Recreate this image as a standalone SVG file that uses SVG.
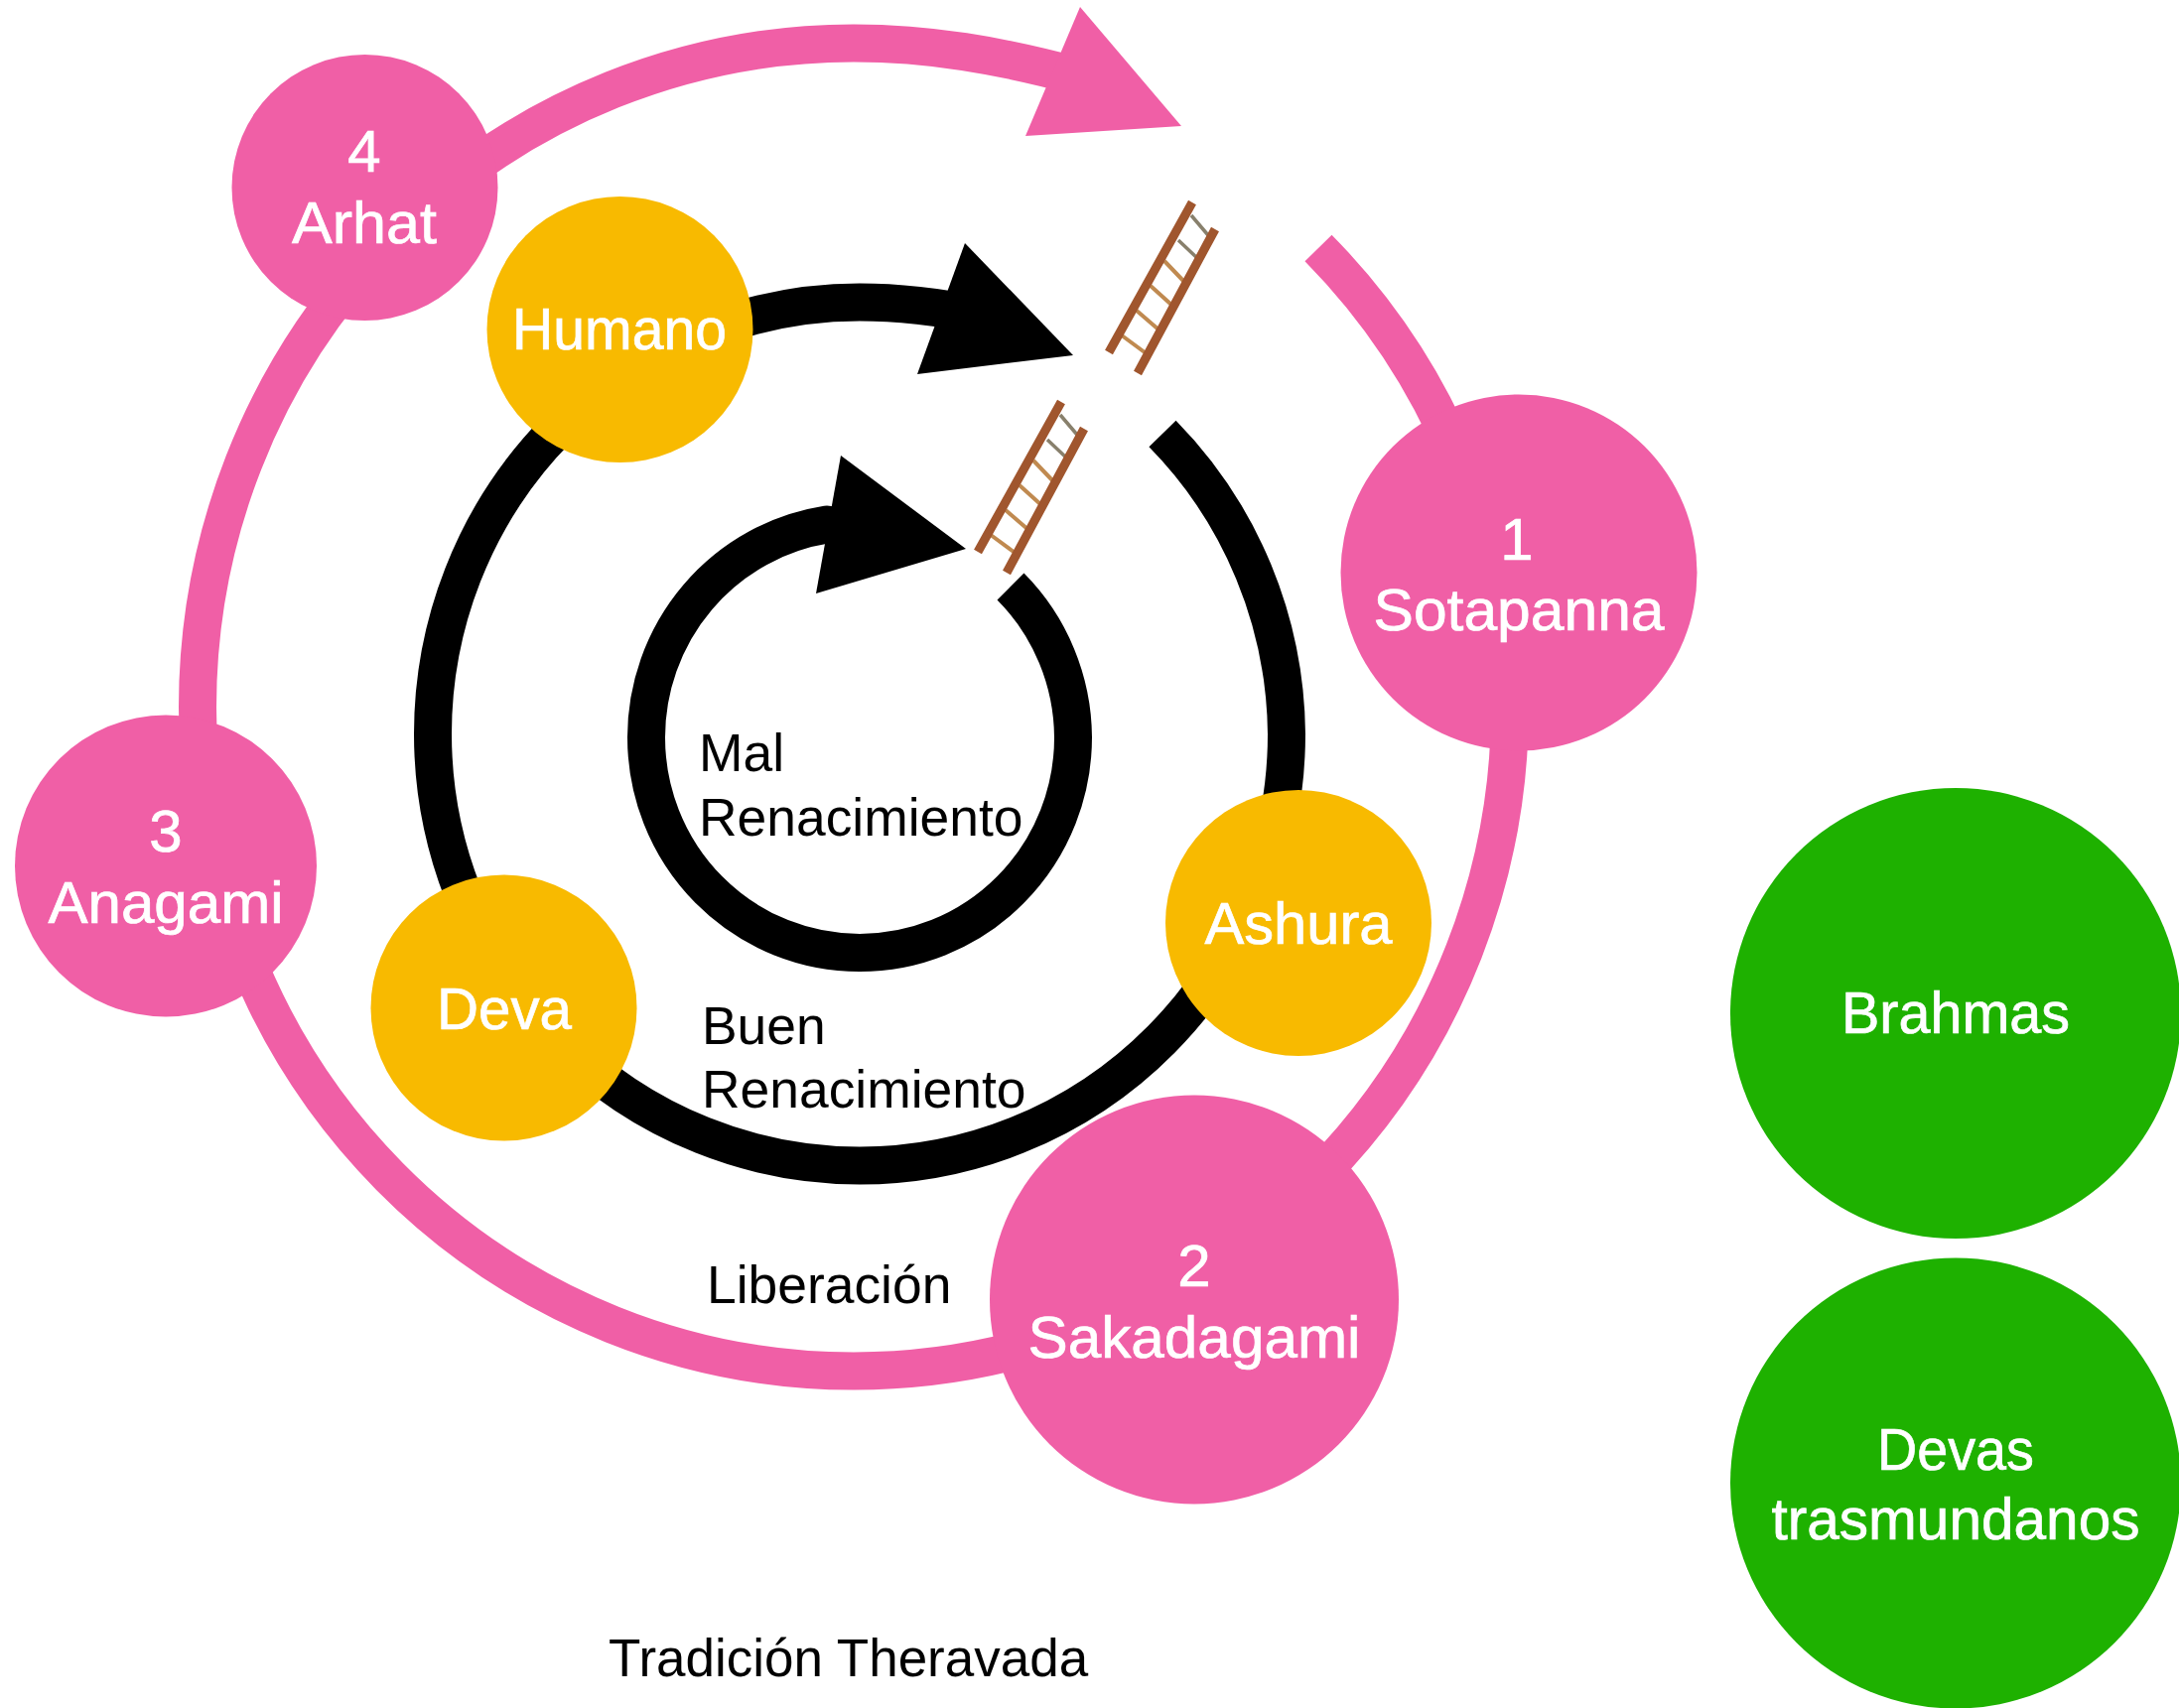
<svg xmlns="http://www.w3.org/2000/svg" xmlns:xlink="http://www.w3.org/1999/xlink" width="2195" height="1721" viewBox="0 0 2195 1721">
<style>
.ring{fill:none;stroke-width:38;stroke-linecap:butt;stroke-linejoin:round}
.k{stroke:#000}.p{stroke:#f05fa6}
.pink{fill:#f05fa6}.gold{fill:#f8ba00}.green{fill:#1eb100}
.n text{fill:#fff;font:500 60px "Liberation Sans",Arial,sans-serif;text-anchor:middle;stroke:#fff;stroke-width:.7}
.l{fill:#000;font:53.4px "Liberation Sans",Arial,sans-serif}
.rail{stroke:#a0562e;stroke-width:9;stroke-linecap:butt;fill:none}
.rung{stroke:#c08a50;stroke-width:4;fill:none}
.top{stroke:#88806c;stroke-width:3.5;fill:none}
</style>
<defs>
<g id="ladder">
<path class="top" d="M1200 217L1217 237M1187 242L1206 260"/>
<path class="rung" d="M1173 263L1193 284M1159 288L1180 307M1145 313L1167 332M1130 338L1153 355"/>
<path class="rail" d="M1201 204L1117 355M1224 231L1146 376"/>
</g>
</defs>
<rect width="2195" height="1721" fill="#fff"/>
<g id="connectors">
<path class="ring p" d="M1328 250A661 669 0 0 1 1521 712.5A661 669 0 0 1 860 1381.5A661 669 0 0 1 199 712.5A661 669 0 0 1 860 43.5C935 43.5 1005 55 1090 78"/>
<polygon class="pink" points="1190,127 1088,7 1033,137"/>
<path class="ring k" d="M1171 437A430 435 0 0 1 1296 739.5A430 435 0 0 1 866 1174.5A430 435 0 0 1 436 739.5A430 435 0 0 1 866 304.5C900 304.5 950 309 985 318"/>
<polygon points="1081,358 972,245 924,377"/>
<path class="ring k" d="M1018 591A215 217 0 0 1 1081 743A215 217 0 0 1 866 960A215 217 0 0 1 651 743A215 217 0 0 1 833 528.6L860 535"/>
<polygon points="973,553 847,459 822,598"/>
</g>
<use id="ladder-1" xlink:href="#ladder" href="#ladder"/>
<use id="ladder-2" xlink:href="#ladder" href="#ladder" x="-132" y="201"/>
<g id="arhat" class="n"><circle class="pink" cx="367.5" cy="189" r="134"/><text x="367" y="173">4</text><text x="367" y="245" textLength="146" lengthAdjust="spacingAndGlyphs">Arhat</text></g>
<g id="humano" class="n"><circle class="gold" cx="624.5" cy="332" r="134"/><text x="624" y="352" textLength="216" lengthAdjust="spacingAndGlyphs">Humano</text></g>
<g id="sotapanna" class="n"><circle class="pink" cx="1530" cy="577" r="179.5"/><text x="1528" y="564">1</text><text x="1530" y="635" textLength="293" lengthAdjust="spacingAndGlyphs">Sotapanna</text></g>
<g id="anagami" class="n"><circle class="pink" cx="167" cy="872.5" r="152"/><text x="167" y="858">3</text><text x="167" y="930" textLength="237" lengthAdjust="spacingAndGlyphs">Anagami</text></g>
<g id="deva" class="n"><circle class="gold" cx="507.5" cy="1015.5" r="134"/><text x="508" y="1037" textLength="136" lengthAdjust="spacingAndGlyphs">Deva</text></g>
<g id="ashura" class="n"><circle class="gold" cx="1308" cy="930" r="134"/><text x="1308" y="951" textLength="189" lengthAdjust="spacingAndGlyphs">Ashura</text></g>
<g id="sakadagami" class="n"><circle class="pink" cx="1203" cy="1309.5" r="206"/><text x="1203" y="1296">2</text><text x="1203" y="1368" textLength="335" lengthAdjust="spacingAndGlyphs">Sakadagami</text></g>
<g id="brahmas" class="n"><circle class="green" cx="1970" cy="1021" r="227"/><text x="1970" y="1041" textLength="230" lengthAdjust="spacingAndGlyphs">Brahmas</text></g>
<g id="devas" class="n"><circle class="green" cx="1970" cy="1494.5" r="227"/><text x="1970" y="1481" textLength="158" lengthAdjust="spacingAndGlyphs">Devas</text><text x="1970" y="1551" textLength="371" lengthAdjust="spacingAndGlyphs">trasmundanos</text></g>
<g id="labels">
<text class="l" x="704" y="777">Mal</text><text class="l" x="704" y="842">Renacimiento</text>
<text class="l" x="707" y="1052">Buen</text><text class="l" x="707" y="1116">Renacimiento</text>
<text class="l" x="712" y="1313">Liberación</text>
<text class="l" style="font-size:53px" x="613" y="1689">Tradición Theravada</text>
</g>
</svg>
